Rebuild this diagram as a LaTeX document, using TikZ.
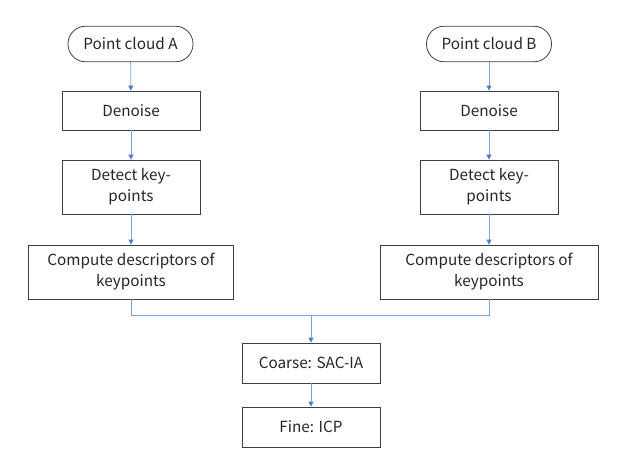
\documentclass[tikz,border=0pt]{standalone}
\usepackage{fontspec}
\setmainfont{Noto Sans CJK SC}
\usetikzlibrary{arrows.meta}
\definecolor{lineblue}{RGB}{125,160,225}
\definecolor{arrblue}{RGB}{80,120,210}
\begin{document}
\begin{tikzpicture}[x=1pt,y=-1pt,
  every node/.style={font=\fontsize{15.3}{21}\selectfont, text=black!85, align=center, inner sep=0pt},
  box/.style={draw=black!75, line width=0.8pt, rectangle},
  conn/.style={draw=lineblue, line width=0.8pt},
  arr/.style={conn, -{Triangle[length=5pt,width=5pt,color=arrblue]}}]
\useasboundingbox (0,0) rectangle (621,464);
\tikzset{rr/.style={draw=black!75, line width=0.8pt, rounded corners=17.5pt}}
% left column
\node[rr, minimum width=125pt, minimum height=35.5pt] (pa) at (130.5,44) {Point cloud A};
\node[box, minimum width=138pt, minimum height=39pt] (da) at (131,110.5) {Denoise};
\node[box, minimum width=138pt, minimum height=54pt] (ka) at (131,187) {Detect key-\\points};
\node[box, minimum width=205pt, minimum height=54pt] (ca) at (131,272) {Compute descriptors of\\keypoints};
% right column
\node[rr, minimum width=125pt, minimum height=35.5pt] (pb) at (489,44) {Point cloud B};
\node[box, minimum width=138pt, minimum height=39pt] (db) at (489,110.5) {Denoise};
\node[box, minimum width=138pt, minimum height=54pt] (kb) at (489,187) {Detect key-\\points};
\node[box, minimum width=218pt, minimum height=54pt] (cb) at (489,272) {Compute descriptors of\\keypoints};
% bottom
\node[box, minimum width=138pt, minimum height=40pt] (co) at (311,363) {Coarse: SAC-IA};
\node[box, minimum width=138pt, minimum height=40pt] (fi) at (311,427) {Fine: ICP};
\coordinate (j) at (311,315.5);
\draw[arr] (pa) -- (da);
\draw[arr] (da) -- (ka);
\draw[arr] (ka) -- (ca);
\draw[arr] (pb) -- (db);
\draw[arr] (db) -- (kb);
\draw[arr] (kb) -- (cb);
\draw[conn] (ca.south) |- (j) -| (cb.south);
\draw[arr] (j) -- (co);
\draw[arr] (co) -- (fi);
\end{tikzpicture}
\end{document}
